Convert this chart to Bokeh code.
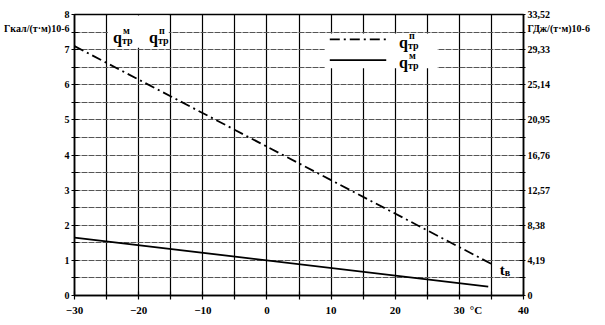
from bokeh.plotting import figure
from bokeh.models import Range1d, LinearAxis, FixedTicker, Label, BoxAnnotation
from bokeh.embed import file_html
from bokeh.resources import INLINE

# data
t_p = [-30, 35]
q_p = [7.1, 0.9]
t_m = [-30, 34.5]
q_m = [1.65, 0.25]
x_ticks = [-30, -20, -10, 0, 10, 20, 30, 40]
y_ticks = [0, 1, 2, 3, 4, 5, 6, 7, 8]
gj_labels = ["0", "4,19", "8,38", "12,57", "16,76", "20,95", "25,14", "29,33", "33,52"]
left_title = "Гкал/(т·м)10-6"
right_title = "ГДж/(т·м)10-6"
x_unit = "°C"

FONT = "Liberation Serif"

p = figure(width=605, height=325, x_range=Range1d(-30, 40), y_range=Range1d(0, 8),
           output_backend="svg", toolbar_location=None,
           min_border_left=74, min_border_right=82, min_border_top=14, min_border_bottom=30)
p.outline_line_color = "black"
p.outline_line_width = 1.5
p.background_fill_color = "white"

half_steps = [i * 0.5 for i in range(17)]

# grids
p.xgrid.ticker = FixedTicker(ticks=list(range(-30, 41, 5)))
p.xgrid.grid_line_color = "black"
p.xgrid.grid_line_width = 1.2
p.ygrid.ticker = FixedTicker(ticks=half_steps)
p.ygrid.grid_line_color = "#555555"
p.ygrid.grid_line_width = 1
p.ygrid.grid_line_dash = "6 1"

# axes
def style_axis(ax, size):
    ax.axis_line_color = "black"
    ax.axis_line_width = 1.5
    ax.major_tick_in = 0
    ax.major_tick_out = 0
    ax.minor_tick_in = 4
    ax.minor_tick_out = 4
    ax.minor_tick_line_color = "black"
    ax.minor_tick_line_width = 1.2
    ax.major_label_text_font = FONT
    ax.major_label_text_font_style = "bold"
    ax.major_label_text_font_size = size
    ax.major_label_text_color = "black"

xa = p.xaxis[0]
xa.ticker = FixedTicker(ticks=x_ticks + [32.6], minor_ticks=list(range(-30, 41, 5)))
xa.major_label_overrides = {32.6: x_unit}
style_axis(xa, "11px")
xa.major_label_standoff = 4

ya = p.yaxis[0]
ya.ticker = FixedTicker(ticks=y_ticks + [7.6], minor_ticks=half_steps)
ya.major_label_overrides = {7.6: left_title}
style_axis(ya, "10px")
ya.minor_tick_out = 3
ya.major_label_standoff = 2

ra = LinearAxis(ticker=FixedTicker(ticks=y_ticks + [7.6], minor_ticks=half_steps))
ov = {t: s for t, s in zip(y_ticks, gj_labels)}
ov[7.6] = right_title
ra.major_label_overrides = ov
style_axis(ra, "10px")
ra.minor_tick_out = 2
ra.major_label_standoff = 2
p.add_layout(ra, "right")

# white boxes (legend area & header)
p.add_layout(BoxAnnotation(left=9.0, right=26.6, bottom=6.47, top=7.46,
                           fill_color="white", fill_alpha=1, line_alpha=0, level="underlay"))
p.add_layout(BoxAnnotation(left=-24.8, right=-15.3, bottom=7.05, top=7.97,
                           fill_color="white", fill_alpha=1, line_alpha=0, level="underlay"))

# lines
p.line(t_p, q_p, line_color="black", line_width=1.8, line_dash="10 4 2 4")
p.line(t_m, q_m, line_color="black", line_width=1.8)

# legend samples
p.line([9.8, 18.6], [7.29, 7.29], line_color="black", line_width=1.8, line_dash="10 4 2 4")
p.line([9.8, 18.6], [6.7, 6.7], line_color="black", line_width=1.8)


def lab(x, y, text, size, xo=0, yo=0, align="left", base="alphabetic", style="bold"):
    p.add_layout(Label(x=x, y=y, text=text, x_offset=xo, y_offset=yo,
                       text_font=FONT, text_font_style=style, text_font_size=size,
                       text_align=align, text_baseline=base, text_color="black"))


def qlabel(x, y, sup):
    lab(x, y, "q", "16px")
    lab(x, y, "тр", "10px", 9, -3)
    lab(x, y, sup, "10px", 10, 7)


qlabel(-24.0, 7.35, "м")
qlabel(-18.4, 7.35, "п")
qlabel(20.6, 7.2, "п")
qlabel(20.6, 6.62, "м")

# t_в
lab(36.3, 0.72, "t", "15px")
lab(36.3, 0.72, "в", "10px", 5, -2)

open("out.html", "w").write(file_html(p, INLINE))
